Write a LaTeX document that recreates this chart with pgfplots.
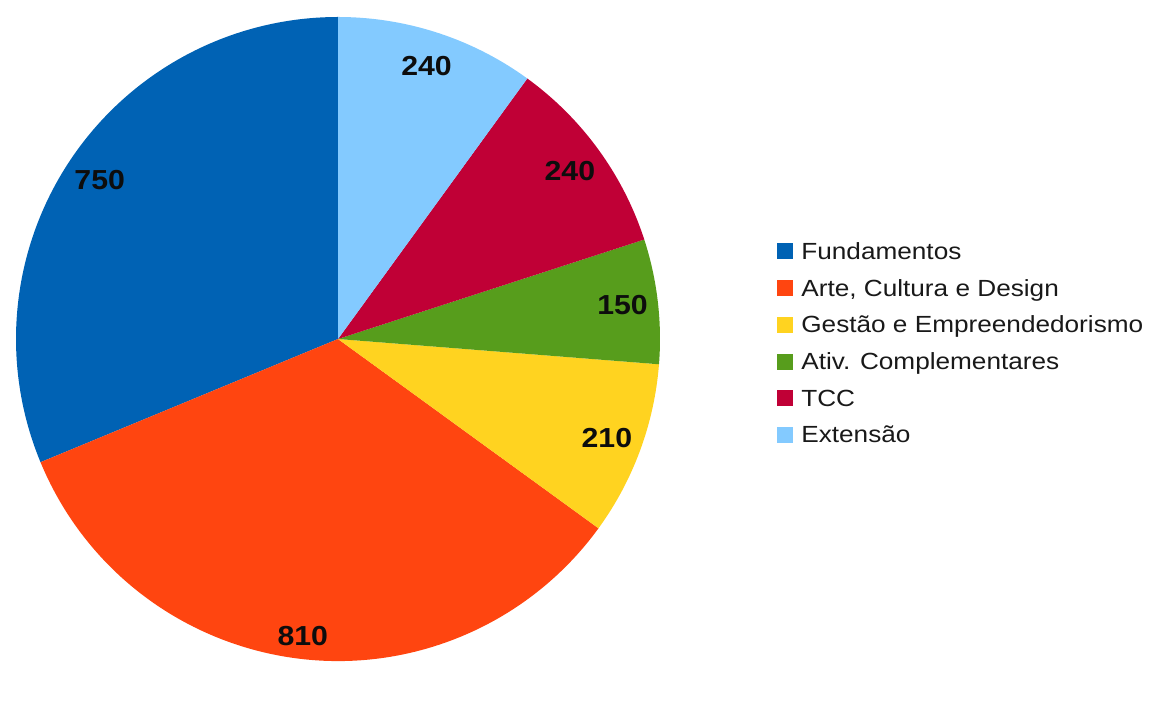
\documentclass[border=0pt]{standalone}
\usepackage{pgfplots}
\usepackage{pgfplotstable}
\pgfplotsset{compat=1.18}
\usepackage{fontspec}
\setmainfont{Liberation Sans}
\newfontfamily\legfont[FakeStretch=1.12]{Liberation Sans}
\newfontfamily\numfont[FakeStretch=1.1]{Liberation Sans}

\definecolor{c0}{HTML}{0062B4}
\definecolor{c1}{HTML}{FF4510}
\definecolor{c2}{HTML}{FFD320}
\definecolor{c3}{HTML}{579D1C}
\definecolor{c4}{HTML}{C00036}
\definecolor{c5}{HTML}{83CAFF}

% value = horas, lr = raio relativo do rotulo
\pgfplotstableread{
value lr
750 0.89
810 0.93
210 0.89
150 0.89
240 0.89
240 0.89
}\piedata

\def\cx{338}
\def\cy{323}
\def\rad{322}   % raio em unidades do eixo (px)

% soma e angulos das fatias
\def\pietotal{0}
\pgfplotsforeachungrouped \i in {0,...,5}{%
  \pgfplotstablegetelem{\i}{value}\of\piedata
  \pgfmathsetmacro\pietotal{\pietotal+\pgfplotsretval}%
}
\def\piecum{0}
\pgfplotsforeachungrouped \i in {0,...,5}{%
  \pgfplotstablegetelem{\i}{value}\of\piedata \let\pieV\pgfplotsretval
  \pgfplotstablegetelem{\i}{lr}\of\piedata \let\pieR\pgfplotsretval
  \pgfmathsetmacro\pieA{90+360*(\piecum/\pietotal)}%
  \pgfmathsetmacro\piecum{\piecum+\pieV}%
  \pgfmathsetmacro\pieB{90+360*(\piecum/\pietotal)}%
  \pgfmathsetmacro\pieM{(\pieA+\pieB)/2}%
  \pgfmathsetmacro\pieX{\cx+\rad*cos(\pieA)}%
  \pgfmathsetmacro\pieY{\cy+\rad*sin(\pieA)}%
  \pgfmathsetmacro\pieLX{\cx+\pieR*\rad*cos(\pieM)}%
  \pgfmathsetmacro\pieLY{\cy+\pieR*\rad*sin(\pieM)}%
  \expandafter\xdef\csname sa\i\endcsname{\pieA}%
  \expandafter\xdef\csname sb\i\endcsname{\pieB}%
  \expandafter\xdef\csname sx\i\endcsname{\pieX}%
  \expandafter\xdef\csname sy\i\endcsname{\pieY}%
  \expandafter\xdef\csname lx\i\endcsname{\pieLX}%
  \expandafter\xdef\csname ly\i\endcsname{\pieLY}%
  \pgfmathtruncatemacro\pieVi{\pieV}%
  \expandafter\xdef\csname val\i\endcsname{\pieVi}%
}

\begin{document}
\begin{tikzpicture}
\begin{axis}[
  scale only axis,
  width=23.04cm, height=13.24cm,
  xmin=0, xmax=1152, ymin=0, ymax=662,
  hide axis, clip=false,
  legend style={draw=none, fill=none, at={(axis cs:777,420.6)}, anchor=north west,
    inner sep=0pt, row sep=7.4pt,
    nodes={inner sep=0pt, text height=10pt, text depth=3.5pt, text=black!90,
      font=\legfont\fontsize{13.3}{16}\selectfont},
    /tikz/every odd column/.append style={column sep=4.55pt}},
  legend cell align=left,
  legend image code/.code={\fill[#1] (0pt,-3.25pt) rectangle (9.1pt,5.85pt);},
]
\path (axis cs:0,0) rectangle (axis cs:1152,662);
\pgfplotsinvokeforeach{0,...,5}{
  \fill[c#1] (axis cs:\cx,\cy) -- (axis cs:\csname sx#1\endcsname,\csname sy#1\endcsname)
    arc[start angle=\csname sa#1\endcsname, end angle=\csname sb#1\endcsname, radius=6.44cm] -- cycle;
}
\pgfplotsinvokeforeach{0,...,5}{
  \node[font=\numfont\fontsize{15.65}{18}\selectfont\bfseries, text=black!95]
    at (axis cs:\csname lx#1\endcsname,\csname ly#1\endcsname) {\csname val#1\endcsname};
}
\addlegendimage{fill=c0, draw=none}
\addlegendentry{Fundamentos}
\addlegendimage{fill=c1, draw=none}
\addlegendentry{Arte, Cultura e Design}
\addlegendimage{fill=c2, draw=none}
\addlegendentry{Gestão e Empreendedorismo}
\addlegendimage{fill=c3, draw=none}
\addlegendentry{Ativ. Complementares}
\addlegendimage{fill=c4, draw=none}
\addlegendentry{TCC}
\addlegendimage{fill=c5, draw=none}
\addlegendentry{Extensão}
\end{axis}
\end{tikzpicture}
\end{document}
